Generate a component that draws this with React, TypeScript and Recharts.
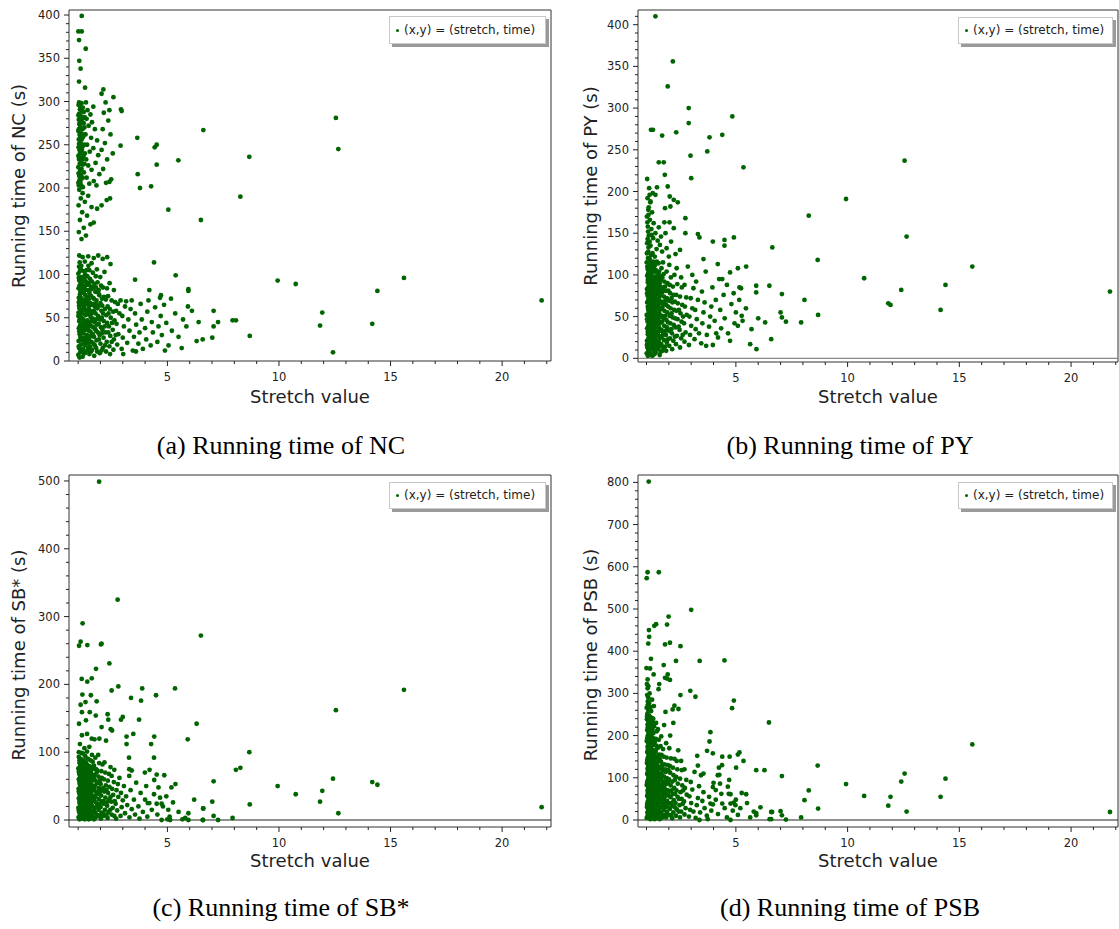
import { ScatterChart, Scatter, XAxis, YAxis, ReferenceArea, ReferenceLine } from "recharts";

type Pt = [number, number];

const GREEN = "#006400";
const INK = "#222";

// labelled ticks; minor ticks are filled in between them
const STRETCH_MAJOR = [5, 10, 15, 20];
const NC_MAJOR = [0, 50, 100, 150, 200, 250, 300, 350, 400];
const PY_MAJOR = [0, 50, 100, 150, 200, 250, 300, 350, 400];
const SB_MAJOR = [0, 100, 200, 300, 400, 500];
const PSB_MAJOR = [0, 100, 200, 300, 400, 500, 600, 700, 800];

// (stretch, time) pairs
const NC_POINTS: Pt[] = [
  [1.16,399],[1.01,381],[1.16,381],[1.04,371],[1.34,361],[1.05,347],[1.11,338],[1.04,323],[1.31,316],[2.13,314],[2.05,309],[2.58,305],[2.23,299],[2.92,291],[2.95,289],[2.4,290],[1.68,294],[6.61,267],[3.65,258],[4.52,250],[4.43,247],[5.49,232],[2.9,249],[3.67,216],[4.52,227],[3.77,200],[4.27,202],[5.04,175],[6.5,163],[4.4,114],[5.37,99],[3.55,94],[4.19,82],[4.71,76],[4.67,73],[5.16,72],[5.94,83],[5.94,81],[5.92,63],[6.31,23],[6.58,25],[5.64,15],[4.89,12],[3.59,11],[3.02,8],[2.43,8],
  [12.55,281],[12.66,245],[8.67,236],[8.27,190],[9.94,93],[10.75,89],[15.6,96],[14.41,81],[21.77,70],[7.07,58],[7.27,45],[7.07,40],[7.92,47],[8.07,47],[7.01,27],[8.69,29],[11.94,56],[11.84,41],[14.18,43],[12.42,10],
  [1.02,296],[1.08,291],[1.15,298],[1.21,293],[1.05,286],[1.12,283],[1.25,288],[1.03,279],[1.18,276],[1.09,272],[1.28,270],[1.01,266],[1.14,263],[1.22,259],[1.06,257],[1.11,252],[1.27,250],[1.02,247],[1.17,244],[1.08,240],[1.24,237],[1.04,233],[1.13,230],[1.2,227],[1.01,224],[1.09,220],[1.26,218],[1.05,214],[1.16,211],[1.1,207],[1.03,203],[1.21,201],[1.07,262],[1.19,268],[1.12,242],[1.03,256],[1.3,262],[1.15,222],
  [1.04,299],[1.1,294],[1.17,289],[1.01,284],[1.07,280],[1.14,277],[1.23,281],[1.05,274],[1.12,269],[1.03,268],[1.09,261],[1.16,256],[1.04,251],[1.2,248],[1.13,246],[1.06,244],[1.01,237],[1.1,235],[1.18,233],[1.07,228],[1.02,217],[1.12,215],[1.2,212],[1.06,209],[1.14,203],[1.01,206],[1.25,275],[1.29,282],[1.3,240],[1.28,228],
  [1.35,299],[1.42,290],[1.55,285],[1.38,280],[1.62,276],[1.47,272],[1.75,268],[1.33,262],[1.58,258],[1.85,255],[1.4,250],[1.68,246],[1.52,242],[1.9,238],[1.36,233],[1.78,229],[1.45,226],[1.6,221],[1.95,216],[1.38,212],[1.7,208],[1.5,205],[1.82,203],
  [2.15,287],[2.35,278],[2.1,268],[2.45,262],[2.2,252],[2.05,244],[2.55,240],[2.3,233],[2.12,222],[2.48,210],[2.4,207],[2.25,206],[2.05,180],[2.28,186],[2.43,188],
  [1.05,198],[1.2,194],[1.12,188],[1.45,191],[1.3,184],[1.02,180],[1.6,178],[1.18,172],[1.4,168],[1.08,163],[1.55,158],[1.25,154],[1.03,149],[1.35,145],[1.15,141],[1.85,176],[1.7,160],
  [1.05,122],[1.2,120],[1.45,121],[1.7,119],[1.9,122],[2.1,118],[2.3,120],[1.3,115],[1.6,113],[2.45,112],
  [1.01,7],[1.04,15],[1.02,23],[1.07,31],[1.03,38],[1.05,46],[1.01,52],[1.06,61],[1.03,68],[1.08,77],[1.02,84],[1.05,93],[1.01,101],[1.04,109],
  [1.11,11],[1.13,19],[1.1,28],[1.15,35],[1.12,43],[1.14,50],[1.1,57],[1.16,65],[1.12,73],[1.13,81],[1.11,89],[1.15,97],[1.12,106],
  [1.2,5],[1.22,14],[1.19,24],[1.24,32],[1.21,40],[1.23,48],[1.2,55],[1.25,63],[1.22,71],[1.19,79],[1.24,87],[1.21,95],[1.26,104],
  [1.3,9],[1.32,18],[1.29,27],[1.34,36],[1.31,44],[1.33,53],[1.3,60],[1.35,69],[1.32,76],[1.29,84],[1.34,92],[1.31,100],
  [1.4,12],[1.42,21],[1.39,30],[1.44,39],[1.41,47],[1.43,58],[1.4,66],[1.45,74],[1.42,82],[1.46,90],[1.41,98],
  [1.5,8],[1.53,17],[1.49,26],[1.55,34],[1.52,42],[1.56,51],[1.5,59],[1.54,67],[1.51,78],[1.57,86],[1.53,95],[1.5,105],
  [1.62,13],[1.6,22],[1.65,31],[1.61,40],[1.66,49],[1.63,57],[1.6,65],[1.67,73],[1.64,84],[1.61,92],[1.66,102],
  [1.72,6],[1.75,18],[1.71,28],[1.76,37],[1.73,45],[1.78,55],[1.74,63],[1.7,72],[1.77,80],[1.73,89],[1.79,98],
  [1.85,11],[1.83,24],[1.88,33],[1.84,42],[1.89,52],[1.86,61],[1.82,70],[1.9,79],[1.87,91],[1.84,106],
  [1.97,9],[2.0,20],[1.96,30],[2.02,39],[1.98,48],[2.04,58],[2.0,67],[1.95,76],[2.03,87],[1.99,97],
  [2.1,15],[2.14,27],[2.09,36],[2.15,46],[2.12,55],[2.08,64],[2.16,74],[2.11,85],[2.18,103],
  [2.25,11],[2.28,22],[2.23,33],[2.3,44],[2.26,53],[2.32,63],[2.24,71],[2.29,84],
  [2.4,17],[2.44,29],[2.38,40],[2.46,50],[2.42,60],[2.5,70],[2.41,90],
  [2.58,13],[2.6,25],[2.55,36],[2.63,47],[2.57,57],[2.66,68],[2.6,82],
  [2.75,19],[2.8,31],[2.72,43],[2.85,55],[2.78,66],[2.9,70],
  [2.95,14],[3.0,27],[3.05,40],[2.98,52],[3.1,63],[3.15,69],
  [3.2,21],[3.3,35],[3.25,48],[3.35,60],[3.4,70],[3.45,12],
  [3.5,28],[3.6,42],[3.55,55],[3.7,20],[3.75,33],[3.8,66],[3.85,48],
  [3.9,14],[4.0,38],[4.05,25],[4.1,57],[4.15,70],[4.25,18],[4.3,45],[4.35,33],
  [4.45,62],[4.55,22],[4.6,40],[4.7,52],[4.75,30],[4.85,65],[4.95,44],[5.05,18],[5.2,35],[5.35,55],[5.5,28],[5.7,48],[5.85,40],[6.1,58],[6.4,45],
  [1.06,4],[1.09,10],[1.03,17],[1.08,24],[1.14,27],[1.05,34],[1.09,41],[1.17,38],[1.07,48],[1.02,56],[1.09,54],[1.18,59],[1.04,64],[1.08,70],[1.15,69],[1.03,73],[1.1,80],[1.17,84],[1.06,87],[1.09,95],[1.16,91],[1.03,96],[1.08,104],[1.14,110],[1.07,114],
  [1.26,9],[1.28,22],[1.35,25],[1.26,37],[1.37,41],[1.27,45],[1.36,58],[1.27,66],[1.38,72],[1.26,80],[1.37,88],[1.28,96],[1.38,105],[1.45,15],[1.48,22],[1.47,35],[1.48,44],[1.47,54],[1.48,63],[1.47,71],[1.49,81],[1.48,88],[1.46,110],
  [1.58,11],[1.57,29],[1.59,46],[1.6,55],[1.58,75],[1.59,83],[1.69,20],[1.68,39],[1.7,58],[1.69,66],[1.7,85],[1.81,15],[1.8,35],[1.81,48],[1.79,66],[1.8,85],[1.93,25],[1.92,43],[1.93,64],[1.92,82],
  [2.05,12],[2.06,32],[2.06,50],[2.07,72],[2.2,18],[2.19,40],[2.2,60],[2.35,33],[2.36,55],[2.34,75],[2.5,22],[2.52,44],[2.68,30],[2.7,58],
];

const PY_POINTS: Pt[] = [
  [1.4,410],[2.18,356],[1.95,326],[2.89,300],[2.89,282],[4.84,290],[1.2,274],[1.29,274],[1.7,267],[2.33,271],[3.82,265],[4.39,268],[3.72,248],[2.97,243],[5.34,229],[3.0,216],[1.03,215],[1.55,235],[1.77,235],[1.82,220],[1.47,205],[1.95,206],[1.14,196],[1.4,196],[2.04,194],[2.22,190],[2.4,187],[2.07,182],[1.83,180],[1.1,181],[1.17,187],[2.74,168],[1.8,163],[2.03,163],[2.22,156],[2.74,150],[3.3,149],[3.37,145],[3.97,140],[4.49,142],[4.49,135],[4.91,145],[6.63,133],[3.55,119],[4.19,113],[4.74,103],[4.39,95],[5.09,108],[5.46,110],[5.16,85],[5.23,84],[5.91,87],[5.91,79],[6.5,87],[5.26,51],[6.31,43],[6.58,23],[5.64,17],[5.92,11],[4.94,42],[5.09,39],[4.74,21],[3.97,16],[3.67,15],[4.34,36],[4.12,30],
  [12.55,237],[9.93,191],[8.26,171],[12.64,146],[8.66,118],[15.58,110],[10.74,96],[14.38,88],[12.4,82],[21.74,80],[7.06,77],[8.07,70],[11.82,66],[11.92,64],[14.16,58],[7.0,55],[7.06,49],[7.24,44],[7.92,43],[8.68,52],
  [1.05,192],[1.18,188],[1.08,178],[1.25,175],[1.02,170],[1.15,166],[1.32,162],[1.06,158],[1.22,155],[1.4,150],[1.1,147],[1.3,144],[1.5,141],[1.03,138],[1.18,135],[1.6,136],[1.45,131],[1.08,128],[1.27,126],[1.7,128],[1.9,132],[2.1,140],[2.3,125],[2.5,130],[1.37,122],[1.55,157],[1.65,146],[1.85,150],[2.0,122],[1.12,204],[1.28,198],
  [1.01,6],[1.04,13],[1.02,21],[1.06,29],[1.03,36],[1.05,44],[1.01,52],[1.07,59],[1.03,67],[1.05,75],[1.02,83],[1.06,91],[1.03,99],[1.05,107],[1.01,115],
  [1.11,9],[1.13,17],[1.1,25],[1.14,33],[1.12,40],[1.15,48],[1.1,56],[1.13,63],[1.11,71],[1.16,79],[1.12,87],[1.14,95],[1.1,103],[1.13,111],[1.15,119],
  [1.2,5],[1.23,14],[1.19,22],[1.24,30],[1.21,38],[1.25,46],[1.2,54],[1.23,61],[1.19,69],[1.24,77],[1.21,85],[1.26,93],[1.22,101],[1.2,110],
  [1.3,10],[1.33,18],[1.29,27],[1.34,35],[1.31,43],[1.35,51],[1.3,58],[1.33,66],[1.29,74],[1.34,82],[1.31,90],[1.36,98],[1.32,108],[1.3,116],
  [1.41,7],[1.43,16],[1.4,24],[1.45,32],[1.42,41],[1.46,49],[1.41,57],[1.44,65],[1.4,73],[1.46,81],[1.42,89],[1.45,97],[1.41,106],
  [1.52,12],[1.55,20],[1.51,29],[1.56,37],[1.53,46],[1.57,54],[1.52,62],[1.55,70],[1.5,78],[1.57,87],[1.53,95],[1.56,104],[1.54,114],
  [1.63,8],[1.66,17],[1.62,26],[1.67,34],[1.64,43],[1.68,51],[1.63,60],[1.66,68],[1.62,77],[1.68,85],[1.65,94],[1.67,108],
  [1.75,13],[1.78,22],[1.74,31],[1.79,39],[1.76,48],[1.8,57],[1.75,65],[1.78,74],[1.73,83],[1.8,92],[1.77,101],[1.74,115],
  [1.88,9],[1.91,19],[1.87,28],[1.92,37],[1.89,46],[1.93,55],[1.88,64],[1.91,72],[1.86,81],[1.94,90],[1.9,104],
  [2.02,15],[2.05,24],[2.0,33],[2.07,42],[2.03,51],[2.08,60],[2.01,69],[2.06,78],[2.04,88],[2.09,97],[2.02,112],
  [2.15,11],[2.2,21],[2.14,30],[2.22,40],[2.17,49],[2.24,58],[2.16,67],[2.21,76],[2.18,86],[2.25,100],
  [2.32,17],[2.36,27],[2.3,37],[2.39,47],[2.34,57],[2.4,66],[2.33,76],[2.38,89],[2.35,108],
  [2.5,13],[2.55,24],[2.48,34],[2.57,44],[2.52,54],[2.6,64],[2.5,74],[2.58,85],[2.55,97],
  [2.7,20],[2.75,31],[2.68,42],[2.8,52],[2.72,62],[2.78,73],[2.7,88],[2.85,110],
  [2.9,16],[2.95,28],[3.0,39],[2.92,50],[3.05,60],[2.98,72],[3.1,84],[3.05,100],
  [3.15,23],[3.2,35],[3.25,47],[3.18,58],[3.3,70],[3.22,92],[3.35,30],
  [3.45,18],[3.5,42],[3.55,55],[3.6,67],[3.48,80],[3.65,104],[3.7,28],
  [3.8,38],[3.85,50],[3.9,62],[3.95,85],[4.05,45],[4.1,70],[4.2,25],[4.25,95],[4.3,58],[4.45,76],[4.5,48],[4.6,88],[4.65,30],[4.8,65],[4.9,78],[5.0,55],[5.15,70],[5.3,45],[5.45,60],[5.7,35],[6.0,48],
  [1.06,3],[1.08,10],[1.02,16],[1.09,23],[1.06,32],[1.08,39],[1.03,47],[1.09,53],[1.06,62],[1.08,70],[1.03,78],[1.09,86],[1.06,94],[1.08,102],[1.04,110],[1.07,120],[1.02,126],[1.09,133],[1.05,143],[1.07,152],[1.04,163],[1.09,172],
  [1.17,4],[1.18,12],[1.16,20],[1.18,29],[1.17,37],[1.18,44],[1.16,52],[1.18,59],[1.17,67],[1.18,75],[1.16,83],[1.18,91],[1.17,99],[1.18,107],[1.16,114],[1.2,124],[1.14,140],[1.23,148],
  [1.27,3],[1.26,11],[1.27,20],[1.26,26],[1.27,34],[1.26,41],[1.28,49],[1.26,56],[1.27,64],[1.26,72],[1.27,80],[1.26,88],[1.27,96],[1.28,104],[1.25,113],
  [1.35,5],[1.37,14],[1.36,23],[1.37,31],[1.36,39],[1.37,47],[1.36,55],[1.37,63],[1.36,70],[1.37,78],[1.36,86],[1.38,94],[1.35,104],[1.39,112],
  [1.47,11],[1.48,20],[1.47,28],[1.48,37],[1.47,45],[1.48,53],[1.47,61],[1.49,69],[1.47,77],[1.48,85],[1.47,93],[1.49,101],[1.46,116],
  [1.59,4],[1.6,15],[1.59,24],[1.6,33],[1.59,42],[1.61,50],[1.59,58],[1.6,66],[1.59,74],[1.6,82],[1.59,90],[1.61,99],
  [1.71,9],[1.71,27],[1.7,44],[1.71,61],[1.7,79],[1.71,97],[1.83,14],[1.84,33],[1.83,51],[1.84,69],[1.83,86],[1.97,23],[1.96,43],[1.97,62],[1.98,81],
  [2.11,35],[2.12,54],[2.12,72],[2.27,26],[2.28,48],[2.27,68],[2.44,38],[2.45,58],[2.62,28],[2.64,50],
];

const SB_POINTS: Pt[] = [
  [1.94,499],[2.77,325],[1.2,290],[6.5,272],[1.04,257],[1.11,263],[1.41,258],[2.05,260],[2.02,259],[2.4,231],[1.8,223],[1.16,208],[1.61,209],[1.41,204],[2.5,191],[2.8,197],[3.87,194],[5.34,194],[4.49,184],[1.19,185],[1.57,184],[3.37,180],[3.82,176],[1.83,175],[1.11,170],[1.33,174],[1.79,154],[2.32,156],[2.35,148],[1.17,159],[1.52,159],[2.92,148],[3.0,152],[3.73,148],[6.31,142],[1.04,142],[1.35,147],[2.05,137],[2.46,134],[2.52,132],[3.47,127],[3.17,123],[5.91,119],[4.41,123],[3.17,112],[4.27,112],[2.25,117],[1.95,120],[3.28,92],[4.4,92],[3.29,75],[3.4,73],[4.2,74],[3.99,70],[3.29,65],[4.52,67],[4.86,66],[4.41,59],[5.36,53],[5.18,48],[5.94,10],[6.6,17],[6.6,0],[5.94,0],[5.67,1],[5.12,0],[5.0,1],[4.74,0],[5.04,15],[4.74,24],[4.52,24],[4.67,33],[4.12,25],[4.19,25],
  [15.6,192],[12.55,162],[8.67,100],[8.07,74],[8.27,77],[7.07,57],[9.94,50],[10.75,38],[12.42,61],[11.94,43],[11.84,27],[14.18,56],[14.41,52],[12.66,10],[21.77,19],[7.01,27],[8.69,23],[6.61,17],[7.92,3],[7.07,6],[7.27,0],[6.58,0],
  [1.17,125],[1.4,127],[1.61,120],[1.73,119],[1.03,100],[1.15,99],[1.4,101],[1.62,96],[1.28,106],[1.08,112],[1.5,108],
  [1.02,4],[1.05,11],[1.01,18],[1.06,25],[1.03,32],[1.05,39],[1.02,46],[1.07,53],[1.03,60],[1.05,68],[1.01,76],[1.06,84],[1.03,93],
  [1.11,2],[1.13,8],[1.1,15],[1.15,22],[1.12,29],[1.14,36],[1.1,43],[1.16,50],[1.12,57],[1.14,64],[1.11,72],[1.15,80],[1.12,90],
  [1.2,5],[1.23,12],[1.19,19],[1.24,26],[1.21,33],[1.25,40],[1.2,47],[1.23,55],[1.19,62],[1.24,70],[1.21,78],[1.26,88],[1.22,98],
  [1.3,1],[1.33,9],[1.29,16],[1.34,23],[1.31,30],[1.35,38],[1.3,45],[1.33,52],[1.29,60],[1.34,67],[1.31,75],[1.36,84],[1.32,94],
  [1.41,4],[1.43,11],[1.4,18],[1.45,26],[1.42,33],[1.46,41],[1.41,48],[1.44,56],[1.4,64],[1.46,72],[1.42,81],[1.45,90],
  [1.52,2],[1.55,9],[1.51,17],[1.56,24],[1.53,31],[1.57,39],[1.52,46],[1.55,54],[1.5,62],[1.57,70],[1.53,79],[1.56,88],
  [1.63,6],[1.66,13],[1.62,21],[1.67,28],[1.64,36],[1.68,44],[1.63,51],[1.66,59],[1.62,67],[1.68,76],[1.65,86],
  [1.75,3],[1.78,10],[1.74,18],[1.79,26],[1.76,34],[1.8,42],[1.75,50],[1.78,58],[1.73,66],[1.8,75],[1.77,92],
  [1.88,7],[1.91,15],[1.87,23],[1.92,31],[1.89,39],[1.93,47],[1.88,55],[1.91,64],[1.86,73],[1.94,84],[1.9,96],
  [2.02,2],[2.05,11],[2.0,19],[2.07,28],[2.03,36],[2.08,45],[2.01,53],[2.06,62],[2.04,72],[2.09,82],
  [2.15,6],[2.2,15],[2.14,24],[2.22,33],[2.17,42],[2.24,51],[2.16,60],[2.21,70],[2.18,85],
  [2.32,3],[2.36,12],[2.3,21],[2.39,30],[2.34,40],[2.4,49],[2.33,58],[2.38,68],[2.45,78],
  [2.5,8],[2.55,18],[2.48,27],[2.57,37],[2.52,46],[2.6,56],[2.5,65],[2.62,74],
  [2.7,2],[2.75,14],[2.68,24],[2.8,34],[2.72,44],[2.78,53],[2.85,62],
  [2.9,6],[2.95,19],[3.0,29],[2.92,40],[3.05,50],[3.1,10],[3.15,35],[3.2,22],
  [3.3,4],[3.35,44],[3.4,16],[3.5,30],[3.55,8],[3.6,55],[3.7,20],[3.75,2],[3.8,40],[3.9,12],[4.0,30],[4.05,50],[4.1,5],[4.3,15],[4.4,38],[4.55,8],[4.6,48],[4.8,20],[4.95,35],[5.1,5],[5.25,26],[5.5,12],[5.8,3],[6.2,30],
  [1.06,1],[1.08,7],[1.03,14],[1.09,21],[1.06,28],[1.08,35],[1.03,42],[1.09,49],[1.06,56],[1.08,63],[1.03,71],[1.09,79],[1.06,88],
  [1.17,3],[1.18,10],[1.16,17],[1.18,24],[1.17,31],[1.18,38],[1.16,45],[1.18,52],[1.17,60],[1.18,68],[1.16,75],[1.18,84],
  [1.27,2],[1.26,9],[1.27,16],[1.26,22],[1.27,29],[1.26,36],[1.28,43],[1.26,50],[1.27,57],[1.26,65],[1.27,73],[1.28,82],
  [1.36,4],[1.37,12],[1.36,20],[1.37,27],[1.36,34],[1.37,42],[1.36,49],[1.37,56],[1.36,63],[1.37,71],[1.38,79],
  [1.47,1],[1.48,8],[1.47,15],[1.48,22],[1.47,29],[1.48,37],[1.47,44],[1.49,52],[1.47,59],[1.48,67],[1.47,76],
  [1.59,4],[1.6,12],[1.59,20],[1.6,28],[1.59,35],[1.61,43],[1.59,50],[1.6,58],[1.59,65],[1.6,74],
  [1.71,1],[1.71,14],[1.7,30],[1.71,46],[1.7,62],[1.71,80],[1.83,5],[1.84,20],[1.83,38],[1.84,54],[1.83,70],[1.97,6],[1.96,24],[1.97,41],[1.98,58],
  [2.11,10],[2.12,28],[2.12,47],[2.27,8],[2.28,26],[2.27,44],[2.44,15],[2.45,34],[2.62,6],[2.64,28],
];

const PSB_POINTS: Pt[] = [
  [1.1,802],[1.05,587],[1.01,573],[1.55,587],[3.0,498],[1.99,482],[1.92,463],[1.35,460],[1.43,464],[1.11,450],[1.12,434],[1.08,418],[1.83,416],[2.05,420],[2.52,412],[2.32,377],[3.38,377],[4.49,378],[1.2,382],[1.0,360],[1.16,359],[1.77,367],[1.95,345],[1.92,335],[1.83,337],[2.05,332],[1.32,345],[1.05,333],[1.08,317],[1.57,322],[1.54,310],[2.96,306],[3.19,292],[2.52,296],[4.91,283],[4.83,265],[2.25,271],[2.43,263],[2.17,262],[1.85,256],[6.48,231],[3.86,208],[3.82,186],[3.97,158],[3.71,164],[3.27,152],[4.39,150],[4.72,150],[5.09,155],[5.16,160],[5.34,140],[5.01,124],[5.91,118],[6.28,118],[4.24,124],[4.38,130],[3.3,129],[3.15,114],[3.55,110],[3.44,106],[4.19,106],[4.26,107],[3.97,78],[4.1,71],[4.29,86],[4.64,79],[4.68,62],[4.76,61],[5.26,64],[5.46,61],[4.9,41],[4.98,35],[4.76,39],[4.39,39],[3.97,37],[3.86,39],[5.64,6],[5.91,16],[5.91,11],[6.58,19],[6.58,2],[4.86,22],[5.09,12],[4.76,0],[3.74,2],[3.37,0],
  [15.58,179],[8.66,129],[12.55,110],[7.06,104],[12.4,91],[14.38,98],[9.93,85],[8.26,70],[8.07,47],[10.74,57],[11.92,55],[11.82,34],[14.16,55],[8.68,27],[6.62,19],[7.0,21],[7.06,11],[7.24,1],[6.51,2],[7.92,6],[12.64,20],[21.74,19],
  [1.01,5],[1.04,18],[1.02,31],[1.06,44],[1.03,57],[1.05,70],[1.01,83],[1.07,96],[1.03,109],[1.05,122],[1.02,135],[1.06,148],[1.03,161],[1.05,174],[1.01,187],[1.06,200],[1.03,213],[1.05,226],[1.02,239],[1.04,252],[1.01,266],[1.06,281],[1.03,296],[1.05,312],
  [1.11,10],[1.13,24],[1.1,37],[1.15,50],[1.12,63],[1.14,76],[1.1,89],[1.16,102],[1.12,115],[1.14,128],[1.11,141],[1.15,154],[1.12,168],[1.13,181],[1.1,194],[1.15,207],[1.12,220],[1.14,234],[1.11,248],[1.15,262],[1.12,277],[1.14,300],
  [1.2,3],[1.23,16],[1.19,29],[1.24,42],[1.21,55],[1.25,68],[1.2,81],[1.23,94],[1.19,107],[1.24,120],[1.21,133],[1.26,146],[1.22,159],[1.2,172],[1.25,185],[1.21,198],[1.24,212],[1.2,226],[1.23,242],[1.21,258],[1.25,285],
  [1.3,8],[1.33,21],[1.29,34],[1.34,47],[1.31,60],[1.35,73],[1.3,86],[1.33,99],[1.29,112],[1.34,125],[1.31,138],[1.36,151],[1.32,164],[1.3,178],[1.35,192],[1.31,206],[1.34,222],[1.3,240],[1.33,270],
  [1.41,4],[1.43,17],[1.4,30],[1.45,43],[1.42,56],[1.46,69],[1.41,82],[1.44,95],[1.4,108],[1.46,121],[1.42,134],[1.45,148],[1.41,162],[1.44,176],[1.42,192],[1.46,210],[1.43,230],
  [1.52,9],[1.55,22],[1.51,35],[1.56,48],[1.53,61],[1.57,74],[1.52,87],[1.55,100],[1.5,113],[1.57,126],[1.53,140],[1.56,155],[1.52,172],[1.55,190],[1.51,215],
  [1.63,5],[1.66,18],[1.62,31],[1.67,44],[1.64,57],[1.68,70],[1.63,83],[1.66,96],[1.62,110],[1.68,124],[1.65,138],[1.67,154],[1.63,175],[1.66,198],
  [1.75,11],[1.78,24],[1.74,37],[1.79,50],[1.76,63],[1.8,76],[1.75,89],[1.78,103],[1.73,117],[1.8,132],[1.77,150],[1.74,168],[1.79,225],
  [1.88,6],[1.91,19],[1.87,32],[1.92,45],[1.89,58],[1.93,71],[1.88,85],[1.91,99],[1.86,114],[1.94,130],[1.9,148],[1.88,182],
  [2.02,12],[2.05,26],[2.0,40],[2.07,54],[2.03,68],[2.08,82],[2.01,96],[2.06,112],[2.04,128],[2.09,146],[2.02,170],[2.06,200],
  [2.15,4],[2.2,18],[2.14,33],[2.22,47],[2.17,61],[2.24,76],[2.16,91],[2.21,106],[2.18,124],[2.25,145],[2.2,230],
  [2.32,10],[2.36,25],[2.3,40],[2.39,55],[2.34,70],[2.4,86],[2.33,102],[2.38,120],[2.35,140],[2.42,165],
  [2.5,6],[2.55,20],[2.48,35],[2.57,50],[2.52,66],[2.6,82],[2.5,98],[2.58,118],[2.55,140],
  [2.7,13],[2.75,28],[2.68,44],[2.8,60],[2.72,76],[2.78,95],[2.7,120],
  [2.9,8],[2.95,24],[3.0,40],[2.92,56],[3.05,72],[2.98,90],[3.1,20],
  [3.2,5],[3.25,35],[3.3,52],[3.35,80],[3.4,18],[3.5,45],[3.55,66],[3.6,28],[3.7,10],[3.8,55],[3.9,22],[4.0,88],[4.1,48],[4.2,14],[4.35,62],[4.5,28],[4.6,6],[4.7,95],[5.0,48],[5.2,28],[5.5,40],[5.8,20],[6.1,30],
  [1.06,11],[1.08,25],[1.03,38],[1.09,51],[1.06,64],[1.08,77],[1.03,90],[1.09,103],[1.06,116],[1.08,129],[1.03,142],[1.09,155],[1.06,168],[1.08,181],[1.03,194],[1.09,207],[1.06,220],[1.08,233],[1.03,246],[1.09,259],[1.06,273],[1.08,290],[1.02,322],
  [1.17,2],[1.18,17],[1.16,31],[1.18,44],[1.17,57],[1.18,70],[1.16,83],[1.18,96],[1.17,109],[1.18,122],[1.16,135],[1.18,148],[1.17,161],[1.18,175],[1.16,188],[1.18,202],[1.17,216],[1.18,230],[1.16,244],[1.18,268],
  [1.27,9],[1.26,23],[1.27,36],[1.26,49],[1.27,62],[1.26,75],[1.28,88],[1.26,101],[1.27,114],[1.26,127],[1.27,140],[1.26,153],[1.28,166],[1.26,180],[1.27,195],[1.26,215],[1.28,232],
  [1.36,2],[1.37,15],[1.36,28],[1.37,41],[1.36,54],[1.37,67],[1.36,80],[1.37,93],[1.36,106],[1.37,119],[1.36,132],[1.38,145],[1.36,160],[1.37,185],
  [1.47,11],[1.48,24],[1.47,37],[1.48,50],[1.47,63],[1.48,76],[1.47,89],[1.49,102],[1.47,115],[1.48,130],[1.47,150],[1.48,170],
  [1.59,2],[1.6,16],[1.59,29],[1.6,42],[1.59,55],[1.61,68],[1.59,81],[1.6,94],[1.59,108],[1.6,122],[1.59,145],
  [1.71,6],[1.71,30],[1.7,55],[1.71,80],[1.7,106],[1.71,130],[1.83,12],[1.84,40],[1.83,66],[1.84,92],[1.83,120],[1.97,30],[1.96,60],[1.97,88],[1.98,118],
  [2.11,10],[2.12,40],[2.12,70],[2.27,30],[2.28,62],[2.27,95],[2.44,20],[2.45,50],[2.62,38],[2.64,70],
];

// labelled ticks plus the unlabelled ones between them
function withMinor(major: number[], parts: number, lo: number, hi: number) {
  const step = (major[1] - major[0]) / parts;
  const out: number[] = [];
  for (let v = major[0] - step * parts; v <= hi + 1e-9; v += step) {
    if (v >= lo - 1e-9) out.push(Math.round(v * 1000) / 1000);
  }
  return out;
}

const tickFont = { fontFamily: "DejaVu Sans", fontSize: 11.5, fill: INK };

function makeXTick(major: number[]) {
  return (props: any) => {
    const { x, y, payload } = props;
    const isMajor = major.includes(payload.value);
    return (
      <g>
        <line x1={x} y1={y} x2={x} y2={y + (isMajor ? 5 : 3)} stroke={INK} strokeWidth={1} />
        {isMajor && (
          <text x={x} y={y + 20} textAnchor="middle" {...tickFont}>
            {payload.value}
          </text>
        )}
      </g>
    );
  };
}

function makeYTick(major: number[]) {
  return (props: any) => {
    const { x, y, payload } = props;
    const isMajor = major.includes(payload.value);
    return (
      <g>
        <line x1={x - (isMajor ? 5 : 3)} y1={y} x2={x} y2={y} stroke={INK} strokeWidth={1} />
        {isMajor && (
          <text x={x - 9} y={y + 4} textAnchor="end" {...tickFont}>
            {payload.value}
          </text>
        )}
      </g>
    );
  };
}

const Dot = (p: any) => <circle cx={p.cx} cy={p.cy} r={2.4} fill={GREEN} />;

type PanelCfg = {
  points: Pt[];
  yMajor: number[];
  yDomain: [number, number];
  xDomain: [number, number];
  left: number;
  top: number;
  width: number;
  height: number;
  plotTop: number;
  padRight: number;
  yAxisW: number;
  xAxisH: number;
  zeroStroke: string;
  ylabel: string;
  ylabelPos: [number, number];
  xlabelPos: [number, number];
  caption: string;
  captionPos: [number, number];
  legend: { left: number; top: number; width: number; height: number };
};

const PANELS: PanelCfg[] = [
  {
    points: NC_POINTS, yMajor: NC_MAJOR, yDomain: [0, 405.8], xDomain: [0.59, 22.19],
    left: 0, top: 0, width: 560, height: 464, plotTop: 10, padRight: 9, yAxisW: 69, xAxisH: 103,
    zeroStroke: INK, ylabel: "Running time of NC (s)", ylabelPos: [19, 186], xlabelPos: [310, 397],
    caption: "(a) Running time of NC", captionPos: [281, 446],
    legend: { left: 389, top: 16, width: 157, height: 28 },
  },
  {
    points: PY_POINTS, yMajor: PY_MAJOR, yDomain: [-4.4, 417.6], xDomain: [0.62, 22.1],
    left: 560, top: 0, width: 559, height: 464, plotTop: 10, padRight: 1, yAxisW: 78, xAxisH: 102,
    zeroStroke: "#888", ylabel: "Running time of PY (s)", ylabelPos: [31, 186], xlabelPos: [318, 397],
    caption: "(b) Running time of PY", captionPos: [290, 446],
    legend: { left: 398, top: 17, width: 155, height: 27 },
  },
  {
    points: SB_POINTS, yMajor: SB_MAJOR, yDomain: [-10.3, 508.8], xDomain: [0.59, 22.19],
    left: 0, top: 464, width: 560, height: 465, plotTop: 11, padRight: 9, yAxisW: 69, xAxisH: 102,
    zeroStroke: INK, ylabel: "Running time of SB* (s)", ylabelPos: [19, 191], xlabelPos: [310, 397],
    caption: "(c) Running time of SB*", captionPos: [281, 444],
    legend: { left: 389, top: 18, width: 157, height: 27 },
  },
  {
    points: PSB_POINTS, yMajor: PSB_MAJOR, yDomain: [-16.6, 817.5], xDomain: [0.62, 22.1],
    left: 560, top: 464, width: 559, height: 465, plotTop: 11, padRight: 1, yAxisW: 78, xAxisH: 102,
    zeroStroke: INK, ylabel: "Running time of PSB (s)", ylabelPos: [31, 191], xlabelPos: [318, 397],
    caption: "(d) Running time of PSB", captionPos: [290, 444],
    legend: { left: 398, top: 18, width: 155, height: 27 },
  },
];

function CenteredText({ cx, cy, text, style, rotate }: any) {
  return (
    <div
      style={{
        position: "absolute",
        left: cx - 200,
        top: cy - 15,
        width: 400,
        height: 30,
        lineHeight: "30px",
        textAlign: "center",
        whiteSpace: "nowrap",
        transform: rotate ? "rotate(-90deg)" : undefined,
        ...style,
      }}
    >
      {text}
    </div>
  );
}

function Panel({ cfg }: { cfg: PanelCfg }) {
  const data = cfg.points.map(([stretch, time]) => ({ stretch, time }));
  const xTicks = withMinor(STRETCH_MAJOR, 5, cfg.xDomain[0], cfg.xDomain[1]);
  const yTicks = withMinor(cfg.yMajor, 5, cfg.yDomain[0], cfg.yDomain[1]);
  const [x0, x1] = cfg.xDomain;
  const [y0, y1] = cfg.yDomain;

  return (
    <div style={{ position: "absolute", left: cfg.left, top: cfg.top, width: cfg.width, height: cfg.height }}>
      <ScatterChart
        width={cfg.width}
        height={cfg.height}
        margin={{ top: cfg.plotTop, right: cfg.padRight, bottom: 0, left: 0 }}
      >
        <XAxis
          type="number"
          dataKey="stretch"
          domain={cfg.xDomain}
          allowDataOverflow
          ticks={xTicks}
          interval={0}
          tickSize={0}
          tickMargin={0}
          axisLine={false}
          height={cfg.xAxisH}
          tick={makeXTick(STRETCH_MAJOR)}
        />
        <YAxis
          type="number"
          dataKey="time"
          domain={cfg.yDomain}
          allowDataOverflow
          ticks={yTicks}
          interval={0}
          tickSize={0}
          tickMargin={0}
          axisLine={false}
          width={cfg.yAxisW}
          tick={makeYTick(cfg.yMajor)}
        />
        <ReferenceArea x1={x0} x2={x1} y1={y0} y2={y1} fill="none" stroke="#333" strokeWidth={1} ifOverflow="visible" />
        {y0 < 0 && <ReferenceLine y={0} stroke={cfg.zeroStroke} strokeWidth={1.2} />}
        <Scatter
          name="(x,y) = (stretch, time)"
          data={data}
          fill={GREEN}
          shape={Dot}
          isAnimationActive={false}
        />
      </ScatterChart>

      <div
        style={{
          position: "absolute",
          left: cfg.legend.left,
          top: cfg.legend.top,
          width: cfg.legend.width,
          height: cfg.legend.height,
          boxSizing: "border-box",
          background: "#fff",
          border: "1px solid #c8c8c8",
          boxShadow: "3px 3px 0 #9a9a9a",
          fontFamily: "DejaVu Sans",
          fontSize: 12,
          color: INK,
          lineHeight: `${cfg.legend.height - 2}px`,
          whiteSpace: "nowrap",
        }}
      >
        <span
          style={{
            display: "inline-block",
            width: 3,
            height: 3,
            borderRadius: 2,
            background: GREEN,
            marginLeft: 6,
            marginRight: 5,
            verticalAlign: "middle",
          }}
        />
        (x,y) = (stretch, time)
      </div>

      <CenteredText
        cx={cfg.ylabelPos[0]}
        cy={cfg.ylabelPos[1]}
        text={cfg.ylabel}
        rotate
        style={{ fontFamily: "DejaVu Sans", fontSize: 18, color: INK }}
      />
      <CenteredText
        cx={cfg.xlabelPos[0]}
        cy={cfg.xlabelPos[1]}
        text="Stretch value"
        style={{ fontFamily: "DejaVu Sans", fontSize: 18, color: INK }}
      />
      <CenteredText
        cx={cfg.captionPos[0]}
        cy={cfg.captionPos[1]}
        text={cfg.caption}
        style={{ fontFamily: "Liberation Serif", fontSize: 26, color: "#000" }}
      />
    </div>
  );
}

export default function App() {
  return (
    <div
      style={{
        position: "absolute",
        left: 0,
        top: 0,
        width: 1119,
        height: 929,
        overflow: "hidden",
        background: "#fff",
      }}
    >
      {PANELS.map((cfg) => (
        <Panel key={cfg.caption} cfg={cfg} />
      ))}
    </div>
  );
}
